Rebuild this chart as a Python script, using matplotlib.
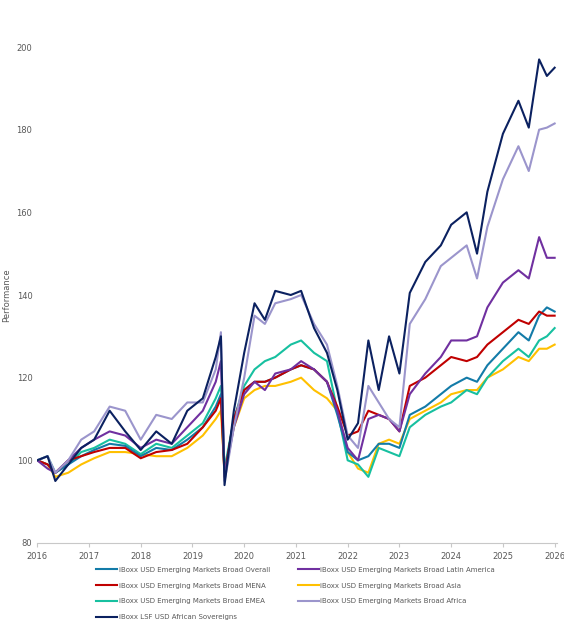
import matplotlib.pyplot as plt

t = [2016.0, 2016.2, 2016.35, 2016.6, 2016.85, 2017.1, 2017.4, 2017.7, 2018.0, 2018.3,
     2018.6, 2018.9, 2019.2, 2019.45, 2019.55, 2019.62, 2019.68, 2019.8, 2020.0, 2020.2,
     2020.4, 2020.6, 2020.9, 2021.1, 2021.35, 2021.6, 2021.8, 2022.0, 2022.2, 2022.4,
     2022.6, 2022.8, 2023.0, 2023.2, 2023.5, 2023.8, 2024.0, 2024.3, 2024.5, 2024.7,
     2025.0, 2025.3, 2025.5, 2025.7, 2025.85, 2026.0]

overall = [100, 99, 97, 99, 101, 102.5, 104, 103.5, 101, 103, 102.5, 105, 108, 113, 116, 97,
           101, 110, 117, 119, 119, 120, 122, 123, 122, 119, 111, 102, 100, 101, 104, 104,
           103, 111, 113, 116, 118, 120, 119, 123, 127, 131, 129, 135, 137, 136]
latam = [100, 98, 97, 100, 103, 105, 107, 106, 103, 105, 104, 108, 112, 119, 124, 97, 100,
         108, 116, 119, 117, 121, 122, 124, 122, 119, 112, 103, 100, 110, 111, 110, 107, 116,
         121, 125, 129, 129, 130, 137, 143, 146, 144, 154, 149, 149]
mena = [100, 99, 97, 100, 101, 102, 103, 103, 100.5, 102, 102.5, 104, 108, 112, 115, 96, 101,
        110, 117, 119, 119, 120, 122, 123, 122, 119, 113, 106, 107, 112, 111, 110, 107, 118,
        120, 123, 125, 124, 125, 128, 131, 134, 133, 136, 135, 135]
asia = [100, 99, 96, 97, 99, 100.5, 102, 102, 101.5, 101, 101, 103, 106, 110, 112, 97, 101,
        108, 115, 117, 118, 118, 119, 120, 117, 115, 112, 102, 98, 97, 104, 105, 104, 110,
        112, 114, 116, 117, 117, 120, 122, 125, 124, 127, 127, 128]
emea = [100, 101, 97, 99, 102, 103, 105, 104, 101.5, 104, 103, 106, 109, 115, 118, 98, 102,
        110, 118, 122, 124, 125, 128, 129, 126, 124, 112, 100, 99, 96, 103, 102, 101, 108,
        111, 113, 114, 117, 116, 120, 124, 127, 125, 129, 130, 132]
africa = [100, 101, 97, 100, 105, 107, 113, 112, 105, 111, 110, 114, 114, 122, 131, 95, 99,
          108, 120, 135, 133, 138, 139, 140, 133, 128, 118, 106, 103, 118, 114, 110, 108, 133,
          139, 147, 149, 152, 144, 156.5, 168, 176, 170, 180, 180.5, 181.5]
sovereigns = [100, 101, 95, 99, 103, 105, 112, 107, 102.5, 107, 104, 112, 115, 125, 130, 94,
              100, 112, 126, 138, 134, 141, 140, 141, 132, 126, 117, 105, 109, 129, 117, 130,
              121, 140.5, 148, 152, 157, 160, 150, 165, 179, 187, 180.5, 197, 193, 195]

series = [
    ('iBoxx USD Emerging Markets Broad Overall', overall, '#137ba8'),
    ('iBoxx USD Emerging Markets Broad Latin America', latam, '#7030a0'),
    ('iBoxx USD Emerging Markets Broad MENA', mena, '#c00000'),
    ('iBoxx USD Emerging Markets Broad Asia', asia, '#ffc000'),
    ('iBoxx USD Emerging Markets Broad EMEA', emea, '#17c0a0'),
    ('iBoxx USD Emerging Markets Broad Africa', africa, '#9b95cc'),
    ('iBoxx LSF USD African Sovereigns', sovereigns, '#0b2160'),
]
# draw order: broad lines first, africa/sovereigns on top
draw_order = [3, 4, 0, 2, 1, 5, 6]

fig = plt.figure(figsize=(5.64, 6.27), dpi=100)
ax = fig.add_axes([0.066, 0.134, 0.922, 0.791])

handles = {}
for i in draw_order:
    name, vals, col = series[i]
    h, = ax.plot(t, vals, color=col, lw=1.5, label=name)
    handles[i] = h

ax.set_xlim(2016, 2026.05)
ax.set_ylim(80, 200)
ax.set_xticks(range(2016, 2027))
ax.set_yticks(range(80, 201, 20))
for s in ['top', 'right', 'left']:
    ax.spines[s].set_visible(False)
ax.spines['bottom'].set_color('#c8c8c8')
ax.tick_params(axis='both', labelsize=6, colors='#595959', length=0)
ax.tick_params(axis='x', length=3, color='#c8c8c8')
ax.set_ylabel('Performance', fontsize=6, color='#595959')

leg_idx = [0, 2, 4, 6, 1, 3, 5]
fig.legend([handles[i] for i in leg_idx], [series[i][0] for i in leg_idx],
           loc='upper left', bbox_to_anchor=(0.16, 0.106), ncol=2, frameon=False,
           fontsize=5, labelcolor='#595959', handlelength=3, handletextpad=0.2,
           columnspacing=4, labelspacing=1.4)

fig.savefig('out.png', dpi=100)
